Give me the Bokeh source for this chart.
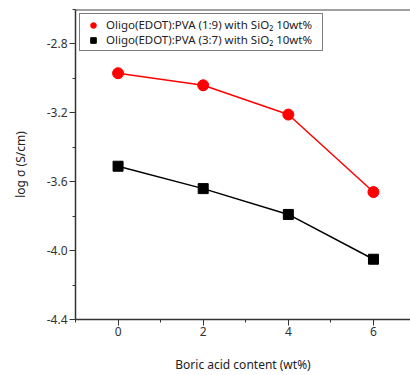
from bokeh.plotting import figure
from bokeh.models import FixedTicker, Range1d, Span, Legend, LegendItem, PrintfTickFormatter
from bokeh.embed import file_html
from bokeh.resources import INLINE

boric_acid = [0, 2, 4, 6]
log_sigma_19 = [-2.97, -3.04, -3.21, -3.66]
log_sigma_37 = [-3.51, -3.64, -3.79, -4.05]
label_19 = "Oligo(EDOT):PVA (1:9) with SiO\u2082 10wt%"
label_37 = "Oligo(EDOT):PVA (3:7) with SiO\u2082 10wt%"
y_major = [-4.4, -4.0, -3.6, -3.2, -2.8]
y_minor = [-4.2, -3.8, -3.4, -3.0, -2.6]
x_major = [0, 2, 4, 6]
x_minor = [-1, 1, 3, 5]

FONT = "Noto Sans"
AX = "#333333"

p = figure(width=410, height=375, output_backend="svg", toolbar_location=None,
           x_range=Range1d(-1, 6.87), y_range=Range1d(-4.4, -2.6),
           min_border_left=75, min_border_right=0, min_border_top=9, min_border_bottom=52)
p.outline_line_color = None
p.xgrid.visible = False
p.ygrid.visible = False

p.line(boric_acid, log_sigma_19, color="#ff0000", line_width=1.5)
p.line(boric_acid, log_sigma_37, color="#000000", line_width=1.5)
r1 = p.scatter(boric_acid, log_sigma_19, marker="circle", size=11, color="#ff0000")
r2 = p.scatter(boric_acid, log_sigma_37, marker="square", size=10, color="#000000")

p.add_layout(Span(location=-2.6, dimension="width", line_color="#444444", line_width=2))

for ax in (p.xaxis[0], p.yaxis[0]):
    ax.axis_line_color = AX
    ax.axis_line_width = 1.5
    ax.major_tick_line_color = AX
    ax.minor_tick_line_color = AX
    ax.major_tick_in = 0
    ax.minor_tick_in = 0
    ax.major_tick_out = 6
    ax.minor_tick_out = 3
    ax.major_label_text_font = FONT
    ax.major_label_text_font_size = "12px"
    ax.major_label_text_color = AX
    ax.axis_label_text_font = FONT
    ax.axis_label_text_font_size = "12px"
    ax.axis_label_text_font_style = "normal"
    ax.axis_label_text_color = "#222222"

p.xaxis.ticker = FixedTicker(ticks=x_major, minor_ticks=x_minor)
p.yaxis.ticker = FixedTicker(ticks=y_major, minor_ticks=y_minor)
p.yaxis.formatter = PrintfTickFormatter(format="%.1f")
p.xaxis.formatter = PrintfTickFormatter(format="%d")
p.xaxis.axis_label = "Boric acid content (wt%)"
p.yaxis.axis_label = "log \u03c3 (S/cm)"
p.xaxis.major_label_standoff = 1
p.xaxis.axis_label_standoff = 17
p.yaxis.major_label_standoff = 2
p.yaxis.axis_label_standoff = 15

legend = Legend(items=[LegendItem(label=label_19, renderers=[r1]),
                       LegendItem(label=label_37, renderers=[r2])],
                location="top_left", margin=4, padding=3, spacing=0,
                glyph_width=20, glyph_height=14, label_height=14, label_standoff=3,
                label_width=213,
                label_text_font=FONT, label_text_font_size="11.5px", label_text_color="#222222",
                border_line_color="#000000", border_line_width=1.5,
                background_fill_color="white", background_fill_alpha=1)
p.add_layout(legend)

open("out.html", "w").write(file_html(p, INLINE))
